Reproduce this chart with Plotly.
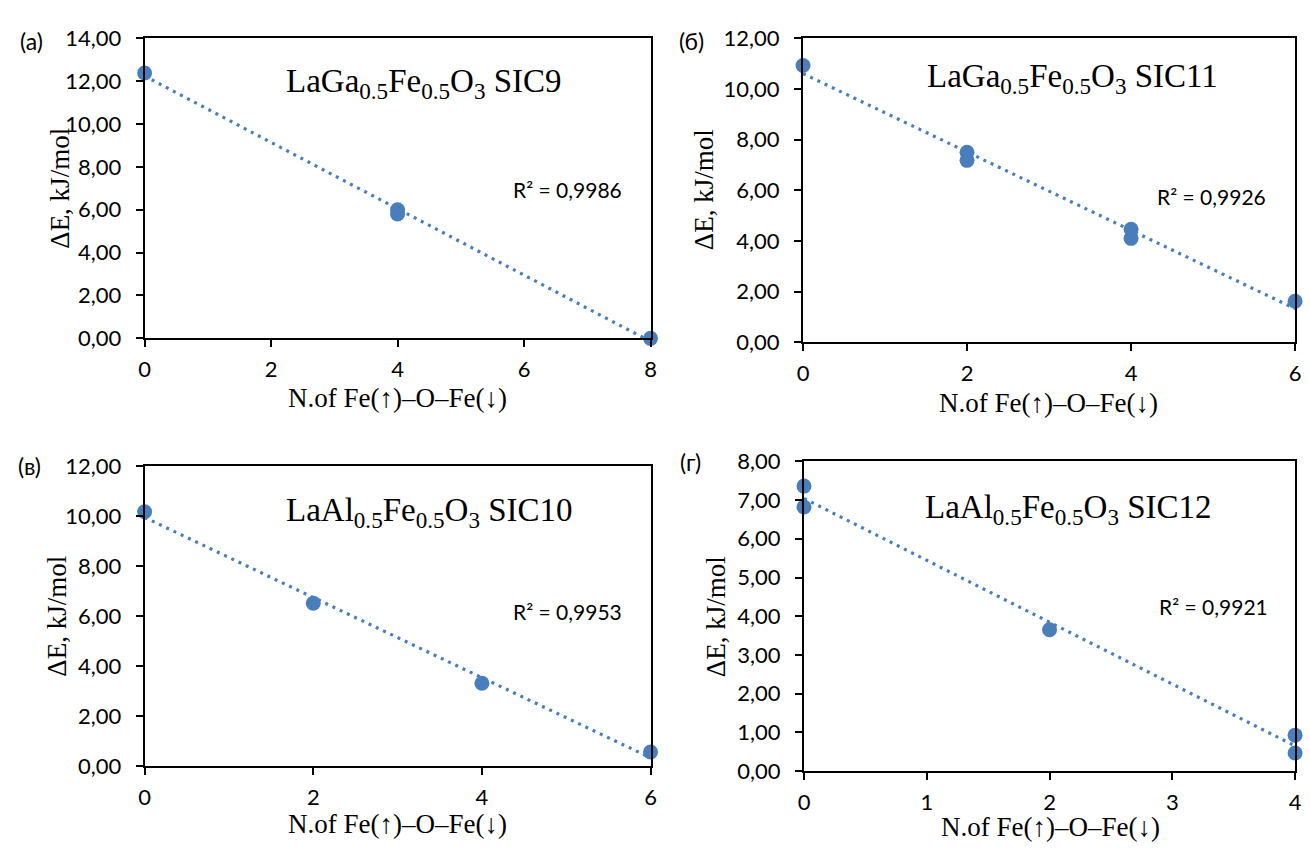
import numpy as np
import plotly.graph_objects as go

# ---------------- data ----------------
x_a = [0, 4, 4, 8]
y_a = [12.38, 6.00, 5.80, 0.00]
x_b = [0, 2, 2, 4, 4, 6]
y_b = [10.92, 7.50, 7.18, 4.46, 4.10, 1.62]
x_c = [0, 2, 4, 6]
y_c = [10.18, 6.52, 3.32, 0.57]
x_d = [0, 0, 2, 4, 4]
y_d = [7.36, 6.82, 3.65, 0.93, 0.47]

panel_labels = ["(a)", "(б)", "(в)", "(г)"]
formulas = [
    "LaGa<sub>0.5</sub>Fe<sub>0.5</sub>O<sub>3</sub> SIC9",
    "LaGa<sub>0.5</sub>Fe<sub>0.5</sub>O<sub>3</sub> SIC11",
    "LaAl<sub>0.5</sub>Fe<sub>0.5</sub>O<sub>3</sub> SIC10",
    "LaAl<sub>0.5</sub>Fe<sub>0.5</sub>O<sub>3</sub> SIC12",
]
r2_texts = ["R² = 0,9986", "R² = 0,9926", "R² = 0,9953", "R² = 0,9921"]
x_title = "N.of Fe(↑)–O–Fe(↓)"
y_title = "ΔE, kJ/mol"
y_ranges = [14, 12, 12, 8]
y_dticks = [2, 2, 2, 1]
x_ranges = [8, 6, 6, 4]
x_dticks = [2, 2, 2, 1]

# ---------------- layout geometry (pixels) ----------------
W, H = 1310, 850
# plot boxes: (left, right, top, bottom)
boxes = [(140, 651, 25, 335), (805, 1302, 25, 339),
         (140, 651, 467, 777), (806, 1302, 462, 782)]
label_pos = [(26, 28), (692, 28), (24, 467), (691, 463)]
formula_pos = [(422, 72), (1077, 67), (428, 515), (1073, 512)]
r2_pos = [(567, 181), (1218, 189), (567, 617), (1220, 612)]
xtitle_pos = [(395, 397), (1053, 402), (395, 837), (1055, 840)]
ytitle_pos = [(55, 180), (705, 182), (52, 622), (717, 622)]

COLOR = "#4A7EBB"
TICKFONT = dict(family="Lato", size=22, color="black")
SERIF = "Liberation Serif"


def px(x):
    return x / W


def py(y):
    return 1 - y / H


data = [(x_a, y_a), (x_b, y_b), (x_c, y_c), (x_d, y_d)]

fig = go.Figure()
annotations = []
layout_axes = {}

for i, (xs, ys) in enumerate(data):
    n = "" if i == 0 else str(i + 1)
    xa, ya = "x" + n, "y" + n
    # linear trend line from the data
    k, b = np.polyfit(np.array(xs, float), np.array(ys, float), 1)
    xl = np.array([0, x_ranges[i]], float)
    fig.add_trace(go.Scatter(
        x=xl, y=k * xl + b, mode="lines", xaxis=xa, yaxis=ya,
        line=dict(color=COLOR, width=3.2, dash="3px,5px"),
        hoverinfo="skip", showlegend=False, cliponaxis=False))
    fig.add_trace(go.Scatter(
        x=xs, y=ys, mode="markers", xaxis=xa, yaxis=ya,
        marker=dict(color=COLOR, size=15), showlegend=False,
        cliponaxis=False))

    l, r, t, btm = boxes[i]
    layout_axes["xaxis" + n] = dict(
        domain=[px(l), px(r)], anchor=ya, range=[0, x_ranges[i]],
        dtick=x_dticks[i], tick0=0, showgrid=False, zeroline=False,
        showline=True, linecolor="black", linewidth=2, mirror=True,
        ticks="outside", ticklen=7, tickwidth=2, tickcolor="black",
        tickfont=TICKFONT, ticklabelstandoff=3)
    layout_axes["yaxis" + n] = dict(
        domain=[py(btm), py(t)], anchor=xa, range=[0, y_ranges[i]],
        dtick=y_dticks[i], tick0=0, showgrid=False, zeroline=False,
        showline=True, linecolor="black", linewidth=2, mirror=True,
        ticks="outside", ticklen=7, tickwidth=2, tickcolor="black",
        tickformat=".2f", tickfont=TICKFONT, ticklabelstandoff=10)

    annotations.append(dict(
        x=px(label_pos[i][0]), y=py(label_pos[i][1]), xref="paper", yref="paper",
        text=panel_labels[i], showarrow=False, xanchor="center", yanchor="middle",
        font=dict(family="Lato", size=23, color="black")))
    annotations.append(dict(
        x=px(formula_pos[i][0]), y=py(formula_pos[i][1]), xref="paper", yref="paper",
        text=formulas[i], showarrow=False, xanchor="center", yanchor="middle",
        font=dict(family=SERIF, size=33, color="black")))
    annotations.append(dict(
        x=px(r2_pos[i][0]), y=py(r2_pos[i][1]), xref="paper", yref="paper",
        text=r2_texts[i], showarrow=False, xanchor="center", yanchor="middle",
        font=dict(family="Lato", size=21, color="black")))
    annotations.append(dict(
        x=px(xtitle_pos[i][0]), y=py(xtitle_pos[i][1]), xref="paper", yref="paper",
        text=x_title, showarrow=False, xanchor="center", yanchor="middle",
        borderpad=0,
        font=dict(family=SERIF, size=27, color="black")))
    annotations.append(dict(
        x=px(ytitle_pos[i][0]), y=py(ytitle_pos[i][1]), xref="paper", yref="paper",
        text=y_title, showarrow=False, xanchor="center", yanchor="middle",
        textangle=-90, font=dict(family=SERIF, size=27, color="black")))

fig.update_layout(
    width=W, height=H, margin=dict(l=0, r=0, t=0, b=0),
    paper_bgcolor="white", plot_bgcolor="white",
    separators=", ", showlegend=False, annotations=annotations,
    **layout_axes)

fig.write_html("out.html")
